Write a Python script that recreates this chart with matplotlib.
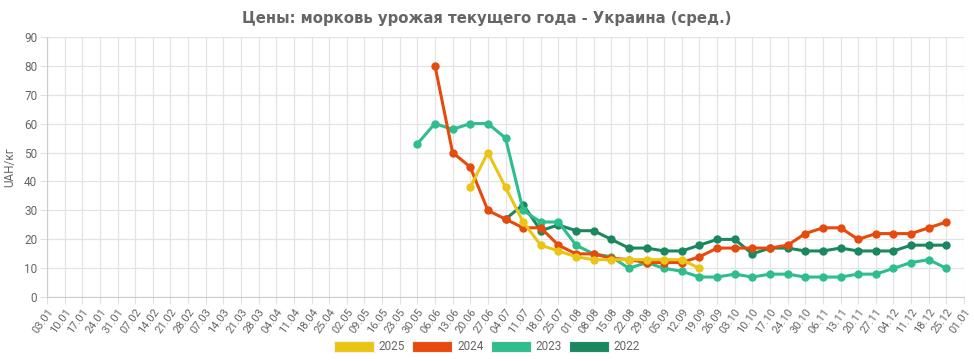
import numpy as np
import matplotlib
matplotlib.use("Agg")
import matplotlib.pyplot as plt
from matplotlib.patches import Patch

# week labels on the x axis
dates = ["03.01", "10.01", "17.01", "24.01", "31.01", "07.02", "14.02", "21.02", "28.02",
         "07.03", "14.03", "21.03", "28.03", "04.04", "11.04", "18.04", "25.04", "02.05",
         "09.05", "16.05", "23.05", "30.05", "06.06", "13.06", "20.06", "27.06", "04.07",
         "11.07", "18.07", "25.07", "01.08", "08.08", "15.08", "22.08", "29.08", "05.09",
         "12.09", "19.09", "26.09", "03.10", "10.10", "17.10", "24.10", "30.10", "06.11",
         "13.11", "20.11", "27.11", "04.12", "11.12", "18.12", "25.12", "01.01"]

# prices, UAH/kg, each series starts at its first week
start_2025 = "20.06"
prices_2025 = [38, 50, 38, 26, 18, 16, 14, 13, 13, 13, 13, 13, 13, 10]

start_2024 = "06.06"
prices_2024 = [80, 50, 45, 30, 27, 24, 24, 18, 15, 15, 13.5, 13, 12, 12, 12, 14, 17, 17,
               17, 17, 18, 22, 24, 24, 20, 22, 22, 22, 24, 26]

start_2023 = "30.05"
prices_2023 = [53, 60, 58, 60, 60, 55, 30, 26, 26, 18, 15, 14, 10, 12, 10, 9, 7, 7, 8, 7,
               8, 8, 7, 7, 7, 8, 8, 10, 12, 13, 10]

start_2022 = "04.07"
prices_2022 = [27, 32, 23, 25, 23, 23, 20, 17, 17, 16, 16, 18, 20, 20, 15, 17, 17, 16, 16,
               17, 16, 16, 16, 18, 18, 18]

years = ["2025", "2024", "2023", "2022"]
colors = ["#EAC516", "#E64A0C", "#2EBD8C", "#1B875E"]
series = [(start_2025, prices_2025), (start_2024, prices_2024),
          (start_2023, prices_2023), (start_2022, prices_2022)]

fig = plt.figure(figsize=(9.74, 3.61), dpi=100)
ax = fig.add_axes([47 / 974, 1 - 297.3 / 361, (964 - 47) / 974, (297.3 - 36.7) / 361])

# chart.js draws the first dataset on top, so plot in reverse
for k in range(len(series) - 1, -1, -1):
    start, vals = series[k]
    x = dates.index(start) + np.arange(len(vals))
    ax.plot(x, vals, color=colors[k], lw=2.2, marker="o", ms=5, zorder=3 + (4 - k))

ax.set_xlim(0, len(dates) - 1)
ax.set_ylim(0, 90)
ax.set_yticks(np.arange(0, 91, 10))
ax.set_xticks(np.arange(len(dates)))
ax.set_xticklabels(dates, rotation=54, ha="right", rotation_mode="anchor",
                   family="Roboto", fontsize=8, color="#666666")
for lab in ax.get_yticklabels():
    lab.set_family("Roboto")
    lab.set_fontsize(8.5)
    lab.set_color("#666666")

ax.grid(True, color="#e3e3e3", lw=0.9)
ax.set_axisbelow(True)
for s in ["top", "right"]:
    ax.spines[s].set_visible(False)
for s in ["left", "bottom"]:
    ax.spines[s].set_color("#cccccc")
ax.tick_params(axis="both", length=5, color="#e0e0e0", pad=2)

ax.set_ylabel("UAH/кг", family="Roboto", fontsize=8.5, color="#666666", labelpad=6)

fig.text(0.5, 1 - 18 / 361, "Цены: морковь урожая текущего года - Украина (сред.)",
         ha="center", va="center", fontsize=10.7, fontweight="bold", color="#666666",
         family="DejaVu Sans")

handles = [Patch(facecolor=c, edgecolor="#f0f0f0", lw=0.8) for c in colors]
leg = fig.legend(handles, years, loc="center", bbox_to_anchor=(487 / 974, 1 - 347 / 361),
                 ncol=4, frameon=False, handlelength=3.4, handleheight=1.15,
                 handletextpad=0.4, columnspacing=0.6,
                 prop={"family": "Roboto", "size": 8.5})
for t in leg.get_texts():
    t.set_color("#666666")

fig.savefig("out.png", dpi=100)
